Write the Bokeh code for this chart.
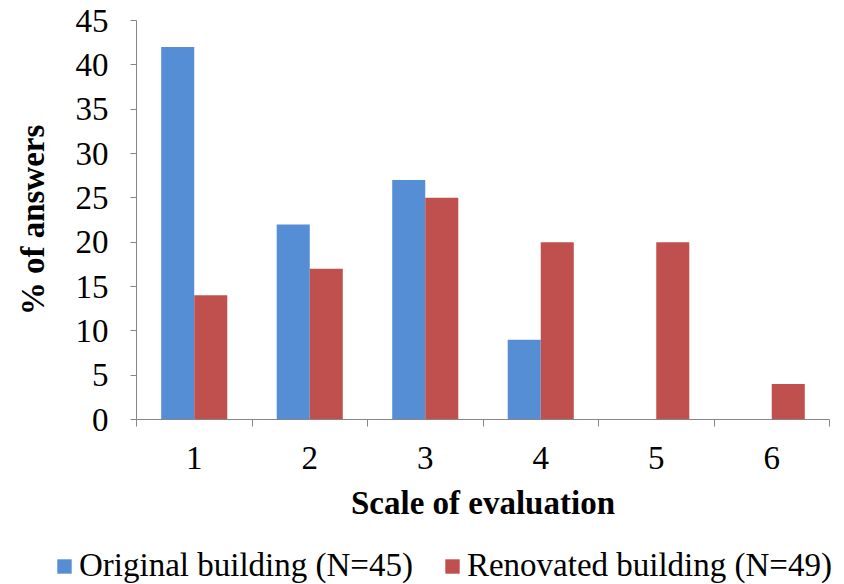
from bokeh.plotting import figure
from bokeh.layouts import column, row
from bokeh.models import ColumnDataSource, FixedTicker, Legend, LegendItem, Range1d
from bokeh.transform import dodge
from bokeh.embed import file_html
from bokeh.resources import INLINE

scale = [1, 2, 3, 4, 5, 6]
original = [42, 22, 27, 9, 0, 0]
renovated = [14, 17, 25, 20, 20, 4]
y_ticks = [0, 5, 10, 15, 20, 25, 30, 35, 40, 45]
boundaries = [0.5, 1.5, 2.5, 3.5, 4.5, 5.5, 6.5]
series_names = ["Original building (N=45)", "Renovated building (N=49)"]

FONT = "Liberation Serif"
AXIS_GRAY = "#868686"
BLUE = "#558ED5"
RED = "#C0504D"

src = ColumnDataSource(dict(x=scale, original=original, renovated=renovated))

p = figure(width=830, height=540, output_backend="svg", toolbar_location=None,
           x_range=Range1d(0.5, 6.5), y_range=Range1d(0, 45),
           min_border_left=136, min_border_right=1, min_border_top=20, min_border_bottom=121)
p.outline_line_color = None
p.xgrid.visible = False
p.ygrid.visible = False

bw = 0.286
p.vbar(x=dodge("x", -bw / 2, range=p.x_range), top="original", width=bw, source=src,
       fill_color=BLUE, line_color=None)
p.vbar(x=dodge("x", bw / 2, range=p.x_range), top="renovated", width=bw, source=src,
       fill_color=RED, line_color=None)

# X axis
xa = p.xaxis[0]
xa.ticker = FixedTicker(ticks=scale, minor_ticks=boundaries)
xa.major_tick_line_color = None
xa.minor_tick_out = 7
xa.minor_tick_in = 0
xa.minor_tick_line_color = AXIS_GRAY
xa.axis_line_color = AXIS_GRAY
xa.major_label_text_font = FONT
xa.major_label_text_font_size = "33px"
xa.major_label_text_color = "black"
xa.major_label_standoff = 20
xa.axis_label = "Scale of evaluation"
xa.axis_label_text_font = FONT
xa.axis_label_text_font_style = "bold"
xa.axis_label_text_font_size = "33px"
xa.axis_label_text_color = "black"
xa.axis_label_standoff = 13

# Y axis
ya = p.yaxis[0]
ya.ticker = FixedTicker(ticks=y_ticks)
ya.minor_tick_line_color = None
ya.major_tick_out = 6
ya.major_tick_in = 0
ya.major_tick_line_color = AXIS_GRAY
ya.axis_line_color = AXIS_GRAY
ya.major_label_text_font = FONT
ya.major_label_text_font_size = "33px"
ya.major_label_text_color = "black"
ya.major_label_standoff = 22
ya.axis_label = "% of answers"
ya.axis_label_text_font = FONT
ya.axis_label_text_font_style = "bold"
ya.axis_label_text_font_size = "33px"
ya.axis_label_text_color = "black"
ya.axis_label_standoff = 22

# Legend strip below the chart (its bars lie outside its own view)
lg = figure(width=844, height=44, output_backend="svg", toolbar_location=None,
            x_axis_type=None, y_axis_type=None, min_border=0,
            min_border_left=0, min_border_right=0, min_border_top=0, min_border_bottom=0,
            x_range=Range1d(100, 101), y_range=Range1d(100, 101))
lg.outline_line_color = None
lg.xgrid.visible = False
lg.ygrid.visible = False
g1 = lg.vbar(x="x", top="original", width=bw, source=src, fill_color=BLUE, line_color=None)
g2 = lg.vbar(x="x", top="renovated", width=bw, source=src, fill_color=RED, line_color=None)

legend = Legend(items=[LegendItem(label=series_names[0], renderers=[g1]),
                       LegendItem(label=series_names[1], renderers=[g2])],
                orientation="horizontal", location=(55, 0),
                glyph_width=18, glyph_height=18, label_standoff=6, spacing=30,
                padding=0, margin=0, border_line_color=None, background_fill_alpha=0,
                label_text_font=FONT, label_text_font_size="33px", label_text_color="black",
                label_height=30)
lg.add_layout(legend, "center")

layout = column(row(p), row(lg), spacing=0)
open("out.html", "w").write(file_html(layout, INLINE))
